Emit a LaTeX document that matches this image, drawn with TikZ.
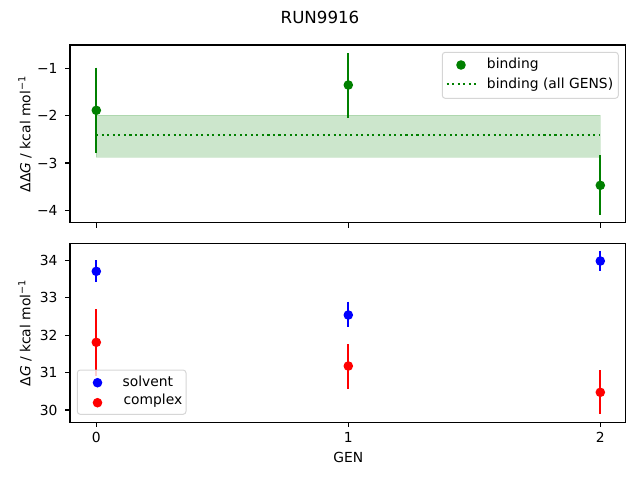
\documentclass[tikz,border=0pt]{standalone}
\usepackage{fontspec}
\setmainfont{DejaVu Sans}
\definecolor{mgreen}{HTML}{008000}
\definecolor{mblue}{HTML}{0000FF}
\definecolor{mred}{HTML}{FF0000}
\definecolor{legedge}{HTML}{CCCCCC}
\begin{document}
\begin{tikzpicture}[x=0.75pt,y=-0.75pt,
  font=\fontsize{10.4}{12.5}\selectfont,
  axisline/.style={line width=0.83pt, black},
  tickmark/.style={line width=0.83pt, black},
  ebar/.style={line width=1.56pt},
  dot/.style={circle, inner sep=0pt, minimum size=7.2pt, draw=none},
  ticklab/.style={inner sep=0pt, anchor=east},
  xticklab/.style={inner sep=0pt},
  legframe/.style={draw=legedge, draw opacity=0.8, fill=white, fill opacity=0.8, line width=0.75pt, rounded corners=2.2pt},
  legtext/.style={inner sep=0pt, anchor=west},
  dottedline/.style={mgreen, line width=1.56pt, dash pattern=on 1.56pt off 2.58pt}
]
\useasboundingbox (0,0) rectangle (640,480);

% title
\node[inner sep=0pt, font=\fontsize{12.5}{15}\selectfont] (title) at (320,17) {RUN9916};

% ================= top axes =================
% band
\fill[mgreen, fill opacity=0.2] (96.3,115) rectangle (600.3,157);
\draw[mgreen, draw opacity=0.15, line width=0.75pt] (96.3,115) rectangle (600.3,157);
% mean line
\coordinate (mL) at (96.3,135);
\coordinate (mR) at (600.3,135);
\draw[dottedline] (mL) -- (mR);

% error bars
\coordinate (t0a) at (96.3,67.7);  \coordinate (t0b) at (96.3,152.7);
\coordinate (t1a) at (348.3,53.3); \coordinate (t1b) at (348.3,117.7);
\coordinate (t2a) at (600.3,155);  \coordinate (t2b) at (600.3,215);
\draw[ebar, mgreen] (t0a) -- (t0b);
\draw[ebar, mgreen] (t1a) -- (t1b);
\draw[ebar, mgreen] (t2a) -- (t2b);
\node[dot, fill=mgreen] (b0) at (96.3,110.3) {};
\node[dot, fill=mgreen] (b1) at (348.3,85) {};
\node[dot, fill=mgreen] (b2) at (600.3,185.3) {};

% frame
\draw[axisline] (70,45) rectangle (625.5,222.7);
% y ticks
\foreach \yy/\lab in {68.3/{−1},115.7/{−2},163/{−3},210.3/{−4}}{
  \draw[tickmark] (70,\yy) -- (65.1,\yy);
  \node[ticklab] at (57.8,\yy) {\lab};
}
% x ticks (no labels)
\foreach \xx in {96.3,348.3,600.3}{
  \draw[tickmark] (\xx,222.7) -- (\xx,227.6);
}
\node[rotate=90, inner sep=0pt] (ylabtop) at (25,134) {ΔΔ\textit{G} / kcal mol\textsuperscript{−1}};

% legend top
\draw[legframe] (442.3,52.3) rectangle (618.3,98.3);
\node[dot, fill=mgreen] (lg1) at (461,65) {};
\coordinate (lgl) at (446.7,84);
\coordinate (lgr) at (475.5,84);
\draw[dottedline] (lgl) -- (lgr);
\node[legtext] (lt1) at (486.7,65) {binding};
\node[legtext] (lt2) at (486.7,84.5) {binding (all GENS)};

% ================= bottom axes =================
% error bars solvent
\coordinate (s0a) at (96.3,260);   \coordinate (s0b) at (96.3,281.7);
\coordinate (s1a) at (348.3,301.7);\coordinate (s1b) at (348.3,326.7);
\coordinate (s2a) at (600.3,250.7);\coordinate (s2b) at (600.3,270.7);
\draw[ebar, mblue] (s0a) -- (s0b);
\draw[ebar, mblue] (s1a) -- (s1b);
\draw[ebar, mblue] (s2a) -- (s2b);
% error bars complex
\coordinate (c0a) at (96.3,309);   \coordinate (c0b) at (96.3,375.5);
\coordinate (c1a) at (348.3,344);  \coordinate (c1b) at (348.3,389);
\coordinate (c2a) at (600.3,370);  \coordinate (c2b) at (600.3,413.7);
\draw[ebar, mred] (c0a) -- (c0b);
\draw[ebar, mred] (c1a) -- (c1b);
\draw[ebar, mred] (c2a) -- (c2b);

\node[dot, fill=mblue] (sv0) at (96.3,271.3) {};
\node[dot, fill=mblue] (sv1) at (348.3,315) {};
\node[dot, fill=mblue] (sv2) at (600.3,261) {};
\node[dot, fill=mred] (cx0) at (96.3,342.3) {};
\node[dot, fill=mred] (cx1) at (348.3,366) {};
\node[dot, fill=mred] (cx2) at (600.3,392.3) {};

% frame
\draw[axisline] (70,243.3) rectangle (625.5,422.3);
\foreach \yy/\lab in {260.3/34,297.7/33,335.1/32,372.6/31,410/30}{
  \draw[tickmark] (70,\yy) -- (65.1,\yy);
  \node[ticklab] at (57.8,\yy) {\lab};
}
\foreach \xx/\lab in {96.3/0,348.3/1,600.3/2}{
  \draw[tickmark] (\xx,422.3) -- (\xx,427.2);
  \node[xticklab] at (\xx,437.5) {\lab};
}
\node[inner sep=0pt] (xlab) at (348.3,457.5) {GEN};
\node[rotate=90, inner sep=0pt] (ylabbot) at (25,333) {Δ\textit{G} / kcal mol\textsuperscript{−1}};

% legend bottom
\draw[legframe] (77.3,370) rectangle (186,414.3);
\node[dot, fill=mblue] (ls1) at (97.5,382.7) {};
\node[dot, fill=mred] (ls2) at (97.5,402.7) {};
\node[legtext] (lst1) at (122.3,381) {solvent};
\node[legtext] (lst2) at (123.3,401) {complex};
\end{tikzpicture}
\end{document}
